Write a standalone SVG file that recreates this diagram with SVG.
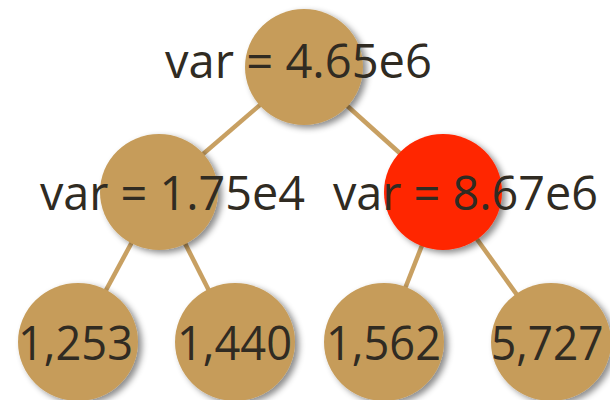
<svg xmlns="http://www.w3.org/2000/svg" width="610" height="400" viewBox="0 0 610 400">
<style>
.edge{stroke:#c8a062;stroke-width:4.5;fill:none}
.node{fill:#c69c5a;filter:url(#sh)}
.hot{fill:#ff2600;filter:url(#sh)}
.lbl{font-family:"Open Sans","DejaVu Sans",sans-serif;font-size:48px;fill:#302b22}
</style>
<defs>
<filter id="sh" x="-20%" y="-20%" width="150%" height="150%">
<feDropShadow dx="4" dy="3" stdDeviation="3" flood-color="#000" flood-opacity="0.45"/>
</filter>
</defs>
<rect width="610" height="400" fill="#fff"/>
<g id="connectors">
<line class="edge" x1="304" y1="67" x2="159" y2="192"/>
<line class="edge" x1="304" y1="67" x2="443" y2="192"/>
<line class="edge" x1="159" y1="192" x2="78" y2="342"/>
<line class="edge" x1="159" y1="192" x2="235" y2="342"/>
<line class="edge" x1="443" y1="192" x2="384" y2="342"/>
<line class="edge" x1="443" y1="192" x2="551" y2="342"/>
</g>
<g id="n-root"><ellipse class="node" cx="304" cy="67" rx="59" ry="58"/></g>
<g id="n-left"><ellipse class="node" cx="159" cy="192" rx="59" ry="58"/></g>
<g id="n-right"><ellipse class="hot" cx="443" cy="192" rx="59" ry="58"/></g>
<g id="n-ll"><ellipse class="node" cx="78" cy="342" rx="60" ry="59"/></g>
<g id="n-lr"><ellipse class="node" cx="235" cy="342" rx="60" ry="59"/></g>
<g id="n-rl"><ellipse class="node" cx="384" cy="342" rx="60" ry="59"/></g>
<g id="n-rr"><ellipse class="node" cx="551" cy="342" rx="60" ry="59"/></g>
<g id="labels">
<text class="lbl" x="165" y="78" textLength="267" lengthAdjust="spacingAndGlyphs">var = 4.65e6</text>
<text class="lbl" x="40" y="210" textLength="265" lengthAdjust="spacingAndGlyphs">var = 1.75e4</text>
<text class="lbl" x="333" y="210" textLength="265" lengthAdjust="spacingAndGlyphs">var = 8.67e6</text>
<text class="lbl" x="18" y="360" textLength="115" lengthAdjust="spacingAndGlyphs">1,253</text>
<text class="lbl" x="177" y="360" textLength="115" lengthAdjust="spacingAndGlyphs">1,440</text>
<text class="lbl" x="326" y="360" textLength="115" lengthAdjust="spacingAndGlyphs">1,562</text>
<text class="lbl" transform="translate(491,360) scale(0.92,1)" x="0" y="0">5,727</text>
</g>
</svg>
